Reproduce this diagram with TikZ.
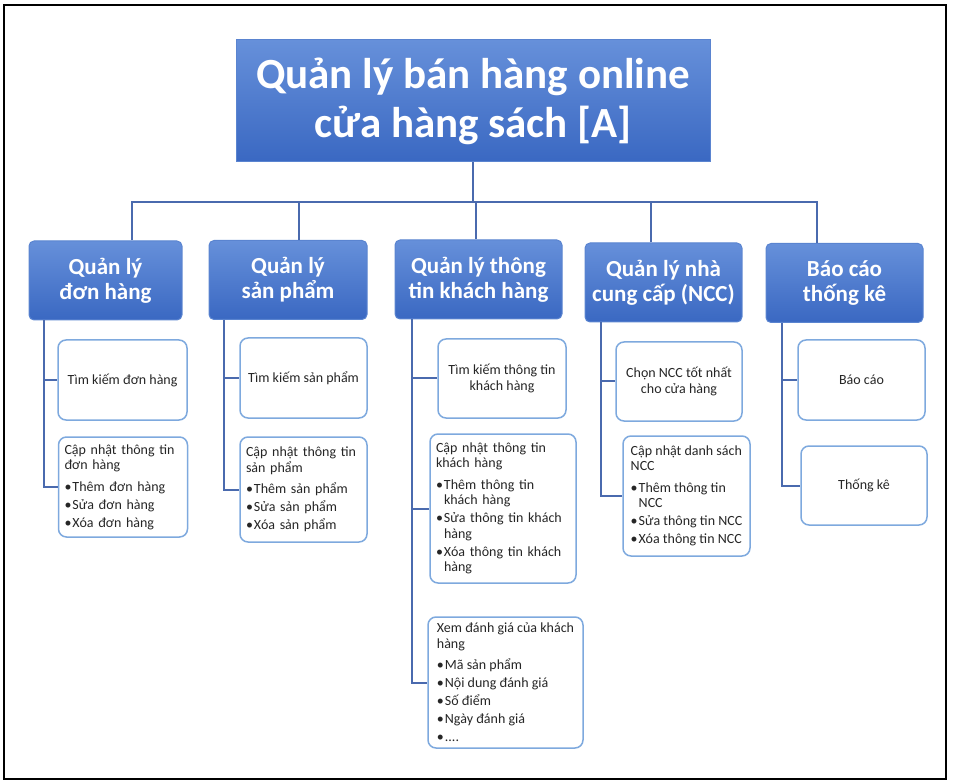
\documentclass[tikz,border=0pt]{standalone}
\usepackage{fontspec}
\setmainfont{Carlito}
\usetikzlibrary{positioning}
\definecolor{SAblue}{HTML}{3A68C2}
\definecolor{SAlight}{HTML}{6690DA}
\definecolor{SAedge}{HTML}{5A84D0}
\definecolor{SAlink}{HTML}{4A6AAE}
\definecolor{SAitem}{HTML}{7EA9DE}
\newcommand{\bul}{\makebox[8pt][l]{•}}
\newcommand{\ind}{\hspace*{8pt}}

\begin{document}
\begin{tikzpicture}[x=1pt, y=-1pt,
   rootbox/.style={rectangle, top color=SAlight, bottom color=SAblue, draw=SAedge,
      line width=1pt, text=white, align=center,
      font=\fontsize{43}{49}\selectfont\bfseries,
      minimum width=474pt, minimum height=122pt},
   headbox/.style={rectangle, rounded corners=5pt, top color=SAlight, bottom color=SAblue,
      draw=SAedge, line width=1pt, text=white, align=center, inner sep=2pt,
      font=\fontsize{23}{25}\selectfont\bfseries, minimum height=79pt},
   itembox/.style={rectangle, rounded corners=8pt, draw=SAitem, line width=1.5pt,
      fill=white, text=black!85, inner xsep=6pt,
      font=\fontsize{14}{15.5}\selectfont},
   link/.style={draw=SAlink, line width=2pt}]
            \useasboundingbox (0,0) rectangle (953,783);
            % Frame
            \draw[line width=2pt] (4,5) rectangle (946,779);
            % Root
            \node[rootbox] (root) at (473,101) {Quản lý bán hàng online\\cửa hàng sách [A]};
            % Headers
            \node[headbox, minimum width=153pt] (h1) at (105.5,280.5) {Quản lý\\đơn hàng};
            \node[headbox, minimum width=158pt] (h2) at (288,280) {Quản lý\\sản phẩm};
            \node[headbox, minimum width=167pt] (h3) at (478.5,279.5) {Quản lý thông\\tin khách hàng};
            \node[headbox, minimum width=157pt] (h4) at (663.5,282.5) {Quản lý nhà\\cung cấp (NCC)};
            \node[headbox, minimum width=157pt] (h5) at (844.5,283) {Báo cáo\\thống kê};
            % Bus from root to headers
            \coordinate (bus) at (473,202);
            \draw[link] (root.south) -- (bus);
            \draw[link] ([xshift=26.5pt]h1.north) |- (bus);
            \draw[link] ([xshift=11pt]h2.north) |- (bus);
            \draw[link] ([xshift=-2.5pt]h3.north) |- (bus);
            \draw[link] ([xshift=-12.5pt]h4.north) |- (bus);
            \draw[link] ([xshift=-27.5pt]h5.north) |- (bus);
            % Column 1: orders
            \node[itembox, align=center, minimum width=129pt, minimum height=80pt] (c11) at (122.5,380)
               {Tìm kiếm đơn hàng};
            \node[itembox, align=left, text width=117pt, minimum height=100pt] (c12) at (123,487)
               {Cập nhật thông tin\\đơn hàng\\[6pt]\bul Thêm đơn hàng\\[2.5pt]\bul Sửa đơn hàng\\[2.5pt]\bul Xóa đơn hàng};
            \draw[link] ([xshift=15pt]h1.south west) |- (c12.west);
            \draw[link] ([xshift=15pt]h1.south west) |- (c11.west);
            % Column 2: products
            \node[itembox, align=center, minimum width=127pt, minimum height=80pt] (c21) at (303.5,378)
               {Tìm kiếm sản phẩm};
            \node[itembox, align=left, text width=115pt, minimum height=105pt] (c22) at (303.5,489.5)
               {Cập nhật thông tin\\sản phẩm\\[6pt]\bul Thêm sản phẩm\\[2.5pt]\bul Sửa sản phẩm\\[2.5pt]\bul Xóa sản phẩm};
            \draw[link] ([xshift=15pt]h2.south west) |- (c22.west);
            \draw[link] ([xshift=15pt]h2.south west) |- (c21.west);
            % Column 3: customers
            \node[itembox, align=center, minimum width=128pt, minimum height=79pt] (c31) at (502,378.5)
               {Tìm kiếm thông tin\\khách hàng};
            \node[itembox, align=left, text width=134pt, minimum height=149pt] (c32) at (503,508.5)
               {Cập nhật thông tin\\khách hàng\\[6pt]\bul Thêm thông tin\\\ind khách hàng\\[2.5pt]\bul Sửa thông tin khách\\\ind hàng\\[2.5pt]\bul Xóa thông tin khách\\\ind hàng};
            \node[itembox, align=left, minimum width=155pt, minimum height=131pt] (c33) at (505.5,682.5)
               {Xem đánh giá của khách\\hàng\\[6pt]\bul Mã sản phẩm\\[2.5pt]\bul Nội dung đánh giá\\[2.5pt]\bul Số điểm\\[2.5pt]\bul Ngày đánh giá\\[2.5pt]\bul ....};
            \draw[link] ([xshift=17pt]h3.south west) |- (c33.west);
            \draw[link] ([xshift=17pt]h3.south west) |- (c32.west);
            \draw[link] ([xshift=17pt]h3.south west) |- (c31.west);
            % Column 4: suppliers
            \node[itembox, align=center, minimum width=126pt, minimum height=79pt] (c41) at (679,381.5)
               {Chọn NCC tốt nhất\\cho cửa hàng};
            \node[itembox, align=left, inner xsep=4pt, minimum width=127pt, minimum height=120pt] (c42) at (686.5,496)
               {Cập nhật danh sách\\NCC\\[6pt]\bul Thêm thông tin\\\ind NCC\\[2.5pt]\bul Sửa thông tin NCC\\[2.5pt]\bul Xóa thông tin NCC};
            \draw[link] ([xshift=16pt]h4.south west) |- (c42.west);
            \draw[link] ([xshift=16pt]h4.south west) |- (c41.west);
            % Column 5: reports
            \node[itembox, align=center, minimum width=127pt, minimum height=80pt] (c51) at (861.5,380)
               {Báo cáo};
            \node[itembox, align=center, minimum width=126pt, minimum height=79pt] (c52) at (864,485.5)
               {Thống kê};
            \draw[link] ([xshift=16pt]h5.south west) |- (c52.west);
            \draw[link] ([xshift=16pt]h5.south west) |- (c51.west);
         \end{tikzpicture}
\end{document}
